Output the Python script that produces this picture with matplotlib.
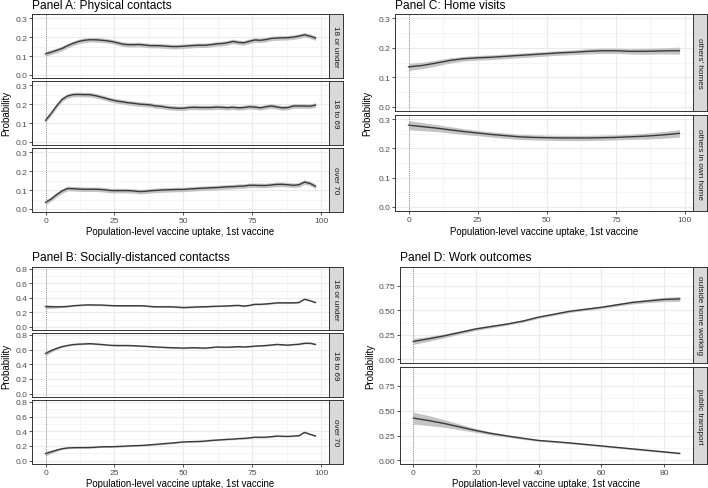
import matplotlib
matplotlib.use("Agg")
import matplotlib.pyplot as plt
import numpy as np

plt.rcParams['font.family'] = ['Liberation Sans', 'DejaVu Sans']

W, H = 708, 489

# ---------------- data ----------------
x_ab = list(range(0, 100, 2))  # 0..98

a_under18 = [0.112, 0.12, 0.13, 0.14, 0.155, 0.167, 0.177, 0.183, 0.186, 0.186,
             0.184, 0.181, 0.177, 0.17, 0.163, 0.16, 0.16, 0.161, 0.158, 0.155,
             0.155, 0.154, 0.152, 0.15, 0.15, 0.152, 0.154, 0.156, 0.157, 0.157,
             0.16, 0.164, 0.166, 0.17, 0.177, 0.172, 0.17, 0.178, 0.185, 0.183,
             0.187, 0.193, 0.195, 0.196, 0.197, 0.2, 0.205, 0.212, 0.205, 0.195]
a_18to69 = [0.114, 0.15, 0.19, 0.225, 0.243, 0.25, 0.251, 0.25, 0.25, 0.245,
            0.238, 0.23, 0.222, 0.216, 0.212, 0.207, 0.204, 0.2, 0.198, 0.196,
            0.19, 0.188, 0.183, 0.18, 0.178, 0.178, 0.182, 0.183, 0.182, 0.182,
            0.182, 0.184, 0.183, 0.181, 0.183, 0.18, 0.182, 0.186, 0.184, 0.18,
            0.186, 0.19, 0.185, 0.18, 0.182, 0.19, 0.19, 0.19, 0.189, 0.195]
a_over70 = [0.035, 0.052, 0.075, 0.095, 0.108, 0.107, 0.105, 0.104, 0.104, 0.104,
            0.103, 0.1, 0.097, 0.097, 0.097, 0.097, 0.095, 0.092, 0.093, 0.096,
            0.098, 0.1, 0.101, 0.102, 0.103, 0.103, 0.105, 0.107, 0.109, 0.11,
            0.112, 0.113, 0.115, 0.117, 0.118, 0.12, 0.121, 0.125, 0.125, 0.124,
            0.124, 0.127, 0.13, 0.13, 0.128, 0.125, 0.128, 0.142, 0.135, 0.12]
a_se = [0.012] * 50

b_under18 = [0.278, 0.276, 0.275, 0.276, 0.28, 0.29, 0.295, 0.3, 0.302, 0.3,
             0.3, 0.296, 0.292, 0.29, 0.29, 0.29, 0.29, 0.29, 0.288, 0.28,
             0.275, 0.275, 0.276, 0.275, 0.27, 0.265, 0.268, 0.272, 0.275, 0.276,
             0.28, 0.283, 0.285, 0.287, 0.292, 0.295, 0.285, 0.295, 0.31, 0.31,
             0.315, 0.322, 0.33, 0.33, 0.33, 0.33, 0.335, 0.38, 0.36, 0.335]
b_18to69 = [0.545, 0.585, 0.615, 0.64, 0.655, 0.668, 0.673, 0.676, 0.68, 0.675,
            0.67, 0.663, 0.657, 0.655, 0.655, 0.655, 0.652, 0.648, 0.645, 0.64,
            0.635, 0.632, 0.628, 0.625, 0.623, 0.62, 0.623, 0.625, 0.622, 0.62,
            0.626, 0.635, 0.633, 0.632, 0.635, 0.64, 0.635, 0.64, 0.647, 0.65,
            0.655, 0.662, 0.67, 0.665, 0.66, 0.668, 0.672, 0.685, 0.686, 0.67]
b_over70 = [0.095, 0.12, 0.143, 0.163, 0.173, 0.177, 0.178, 0.178, 0.179, 0.183,
            0.188, 0.19, 0.19, 0.193, 0.196, 0.2, 0.204, 0.206, 0.21, 0.216,
            0.222, 0.228, 0.235, 0.24, 0.248, 0.255, 0.258, 0.26, 0.262, 0.267,
            0.275, 0.28, 0.285, 0.29, 0.293, 0.3, 0.303, 0.31, 0.32, 0.318,
            0.32, 0.327, 0.335, 0.332, 0.33, 0.335, 0.34, 0.385, 0.36, 0.335]
b_se = [0.03, 0.022, 0.016, 0.012, 0.01] + [0.009] * 45

x_c = [0, 5, 10, 15, 20, 25, 30, 35, 40, 45, 50, 55, 60, 65, 70, 75, 80, 85, 90, 95, 98]
c_others_homes = [0.135, 0.14, 0.148, 0.157, 0.163, 0.166, 0.168, 0.171, 0.174, 0.177,
                  0.18, 0.183, 0.185, 0.188, 0.19, 0.19, 0.188, 0.188, 0.189, 0.19, 0.19]
c_others_se = [0.012, 0.011, 0.01, 0.009, 0.008, 0.008, 0.008, 0.008, 0.008, 0.008,
               0.008, 0.008, 0.008, 0.009, 0.009, 0.009, 0.009, 0.01, 0.01, 0.011, 0.012]
c_own_home = [0.28, 0.275, 0.27, 0.264, 0.258, 0.253, 0.248, 0.244, 0.24, 0.238,
              0.237, 0.236, 0.236, 0.236, 0.237, 0.238, 0.24, 0.242, 0.245, 0.249, 0.252]
c_own_se = [0.016, 0.014, 0.012, 0.011, 0.01, 0.009, 0.009, 0.009, 0.009, 0.009,
            0.009, 0.009, 0.009, 0.009, 0.009, 0.009, 0.009, 0.01, 0.011, 0.012, 0.013]

x_d = [0, 5, 10, 15, 20, 25, 30, 35, 40, 45, 50, 55, 60, 65, 70, 75, 80, 85]
d_outside_work = [0.182, 0.21, 0.24, 0.275, 0.31, 0.335, 0.36, 0.39, 0.43, 0.46,
                  0.49, 0.51, 0.53, 0.555, 0.58, 0.595, 0.61, 0.615]
d_outside_se = [0.03, 0.025, 0.02, 0.017, 0.015, 0.013, 0.012, 0.012, 0.012, 0.012,
                0.012, 0.012, 0.013, 0.014, 0.016, 0.018, 0.022, 0.025]
d_public = [0.425, 0.4, 0.37, 0.335, 0.3, 0.27, 0.245, 0.222, 0.2, 0.188,
            0.175, 0.16, 0.145, 0.13, 0.115, 0.1, 0.085, 0.07]
d_public_se = [0.06, 0.05, 0.038, 0.028, 0.02, 0.015, 0.012, 0.01, 0.009, 0.008,
               0.008, 0.008, 0.008, 0.008, 0.008, 0.008, 0.008, 0.008]

titles = ["Panel A: Physical contacts", "Panel B: Socially-distanced contactss",
          "Panel C: Home visits", "Panel D: Work outcomes"]
age_strips = ["18 or under", "18 to 69", "over 70"]
home_strips = ["others' homes", "others in own home"]
work_strips = ["outside home working", "public transport"]
xlabel = "Population-level vaccine uptake, 1st vaccine"

fig = plt.figure(figsize=(W / 100, H / 100), dpi=100)


def box(l, t, r, b):
    return [l / W, 1 - b / H, (r - l) / W, (b - t) / H]


def panel(l, t, r, b, strip_w, xs, ys, se, strip, xlim, ylim, xt, xminor, yt, yminor,
          ytl, show_x):
    ax = fig.add_axes(box(l, t, r, b))
    ax.set_xlim(*xlim)
    ax.set_ylim(*ylim)
    for v in xminor:
        ax.axvline(v, color='#f2f2f2', lw=0.5, zorder=0)
    for v in yminor:
        ax.axhline(v, color='#f2f2f2', lw=0.5, zorder=0)
    for v in xt:
        ax.axvline(v, color='#ebebeb', lw=0.8, zorder=0)
    for v in yt:
        ax.axhline(v, color='#ebebeb', lw=0.8, zorder=0)
    xs = np.array(xs, float)
    ys = np.array(ys, float)
    se = np.array(se, float)
    ax.fill_between(xs, ys - se, ys + se, color='#c4c4c4', lw=0, zorder=2)
    ax.plot(xs, ys, color='#3a3a3a', lw=1.0, zorder=3)
    ax.axvline(0, color='#777777', lw=0.6, ls=(0, (1, 1.5)), zorder=4)
    ax.set_yticks(yt)
    ax.set_yticklabels(ytl)
    ax.set_xticks(xt)
    if not show_x:
        ax.set_xticklabels([])
    ax.tick_params(axis='both', length=2.2, width=0.6, color='#333333',
                   labelsize=6.1, labelcolor='#4d4d4d', pad=1.2)
    if not show_x:
        ax.tick_params(axis='x', length=0)
    for s in ax.spines.values():
        s.set_color('#333333')
        s.set_linewidth(0.7)
    # strip
    sx = fig.add_axes(box(r, t, r + strip_w, b))
    sx.set_facecolor('#d9d9d9')
    sx.set_xticks([])
    sx.set_yticks([])
    for s in sx.spines.values():
        s.set_color('#333333')
        s.set_linewidth(0.7)
    sx.text(0.5, 0.5, strip, rotation=-90, ha='center', va='center',
            fontsize=5.9, color='#1a1a1a', transform=sx.transAxes)
    return ax


# Panel A
a_rows = [(15, 79), (82, 146), (149, 213)]
a_data = [a_under18, a_18to69, a_over70]
for i, ((t, b), ys) in enumerate(zip(a_rows, a_data)):
    panel(32, t, 329, b, 14, x_ab, ys, a_se, age_strips[i], (-4.9, 102.9), (-0.016, 0.322),
          [0, 25, 50, 75, 100], [12.5, 37.5, 62.5, 87.5], [0, 0.1, 0.2, 0.3],
          [0.05, 0.15, 0.25], ["0.0", "0.1", "0.2", "0.3"], i == 2)

# Panel B
b_rows = [(268, 331), (334, 398), (401, 465)]
b_data = [b_under18, b_18to69, b_over70]
for i, ((t, b), ys) in enumerate(zip(b_rows, b_data)):
    panel(32, t, 329, b, 14, x_ab, ys, b_se, age_strips[i], (-4.9, 102.9), (-0.045, 0.825),
          [0, 25, 50, 75, 100], [12.5, 37.5, 62.5, 87.5], [0, 0.2, 0.4, 0.6, 0.8],
          [0.1, 0.3, 0.5, 0.7], ["0.0", "0.2", "0.4", "0.6", "0.8"], i == 2)

# Panel C
c_rows = [(15, 112), (116, 212)]
c_data = [(c_others_homes, c_others_se), (c_own_home, c_own_se)]
for i, ((t, b), (ys, se)) in enumerate(zip(c_rows, c_data)):
    panel(395, t, 693, b, 14, x_c, ys, se, home_strips[i], (-4.9, 102.9), (-0.015, 0.315),
          [0, 25, 50, 75, 100], [12.5, 37.5, 62.5, 87.5], [0, 0.1, 0.2, 0.3],
          [0.05, 0.15, 0.25], ["0.0", "0.1", "0.2", "0.3"], i == 1)

# Panel D
d_rows = [(268, 364), (368, 465)]
d_data = [(d_outside_work, d_outside_se), (d_public, d_public_se)]
for i, ((t, b), (ys, se)) in enumerate(zip(d_rows, d_data)):
    panel(400, t, 693, b, 14, x_d, ys, se, work_strips[i], (-4.25, 89.25), (-0.037, 0.94),
          [0, 20, 40, 60, 80], [10, 30, 50, 70], [0, 0.25, 0.5, 0.75],
          [0.125, 0.375, 0.625, 0.875], ["0.00", "0.25", "0.50", "0.75"], i == 1)

# titles and labels
for (tx, ty), ttl in zip([(32, 6), (32, 258), (395, 6), (400, 258)],
                         [titles[0], titles[1], titles[2], titles[3]]):
    fig.text(tx / W, 1 - ty / H, ttl, fontsize=8.6, color='black', ha='left', va='center')

for cx, cy in [(180, 232), (180, 484), (544, 232), (546, 484)]:
    fig.text(cx / W, 1 - cy / H, xlabel, fontsize=6.9, color='black', ha='center', va='center')

for cx, cy in [(6, 113), (6, 366), (367, 113), (370, 366)]:
    fig.text(cx / W, 1 - cy / H, "Probability", fontsize=7.0, color='black', rotation=90,
             ha='center', va='center')

fig.savefig("out.png", dpi=100, facecolor='white')
